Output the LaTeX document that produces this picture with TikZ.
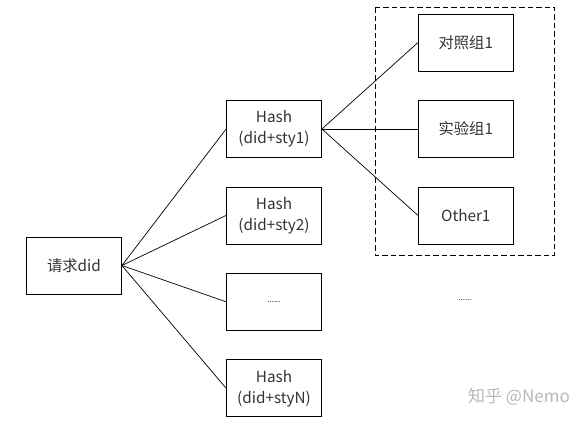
\documentclass[tikz,border=0pt]{standalone}
\usepackage{xcolor}
\usepackage{fontspec}
\setmainfont{Noto Sans CJK SC}
\usepackage{tikz}
\usetikzlibrary{shapes, arrows, positioning}

\begin{document}
\begin{tikzpicture}[
    x=1pt, y=-1pt,
    node distance = 28.6pt and 96pt,
    % box style for every rectangle
    box/.style={
        rectangle,
        draw,
        line width=0.8pt,
        minimum width=95pt,
        minimum height=57pt,
        align=center,
        text=black!80,
        font=\fontsize{15.3}{21}\selectfont
    },
    line/.style={draw, line width=0.7pt}
]
    \useasboundingbox (0,0) rectangle (587,421);

    % Nodes
    \node [box] (req) at (74,265.5) {请求did};
    \node [box] (hash1) at (274,129) {Hash\\(did+sty1)};
    \node [box, below=of hash1] (hash2) {Hash\\(did+sty2)};
    \node [box, below=of hash2, font=\fontsize{8}{10}\selectfont] (hash3) {......};
    \node [box, below=of hash3] (hashN) {Hash\\(did+styN)};

    \node [box, right=of hash1] (exp) {实验组1};
    \node [box, above=of exp] (ctrl) {对照组1};
    \node [box, below=of exp] (other) {Other1};

    % dashed group
    \draw [dashed, line width=0.8pt, dash pattern=on 5.5pt off 3pt] (375.3,7.3) rectangle (554.7,255.3);

    \node [text=black!80, font=\fontsize{8}{10}\selectfont] (more) at (465,300) {......};
    \node [text=black!28, font=\fontsize{17}{20}\selectfont] (mark) at (519,397) {知乎 @Nemo};

    % Paths
    \path [line] (req.east) -- (hash1.west);
    \path [line] (req.east) -- (hash2.west);
    \path [line] (req.east) -- (hash3.west);
    \path [line] (req.east) -- (hashN.west);
    \path [line] (hash1.east) -- (ctrl.west);
    \path [line] (hash1.east) -- (exp.west);
    \path [line] (hash1.east) -- (other.west);
\end{tikzpicture}
\end{document}
